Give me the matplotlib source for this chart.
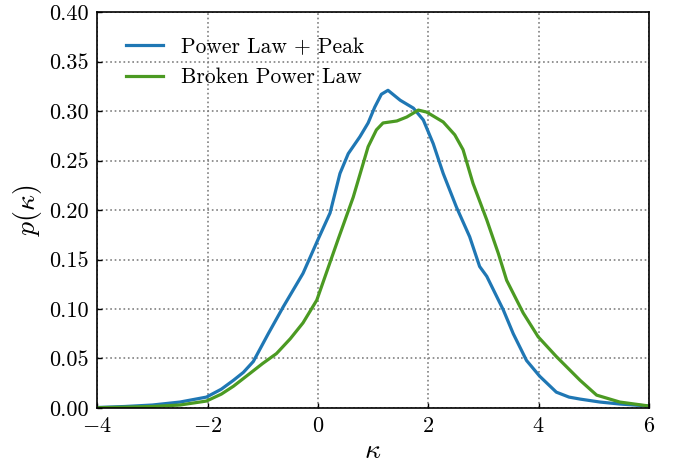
import numpy as np
import matplotlib
matplotlib.use("Agg")
import matplotlib.pyplot as plt

# values
kappa_plp = [-4.0, -3.5, -3.0, -2.5, -2.02, -1.75, -1.53, -1.35, -1.17, -0.9, -0.63, -0.27,
             0.0, 0.22, 0.4, 0.55, 0.76, 0.91, 1.03, 1.15, 1.27, 1.49, 1.73, 1.91, 2.09,
             2.27, 2.51, 2.75, 2.93, 3.06, 3.36, 3.54, 3.78, 4.02, 4.32, 4.55, 4.75, 5.11,
             5.47, 6.0]
p_plp = [0.0005, 0.0015, 0.003, 0.006, 0.011, 0.019, 0.028, 0.036, 0.047, 0.075, 0.102, 0.136,
         0.17, 0.197, 0.237, 0.257, 0.274, 0.288, 0.304, 0.317, 0.321, 0.311, 0.303, 0.291,
         0.267, 0.237, 0.203, 0.173, 0.143, 0.133, 0.099, 0.075, 0.048, 0.032, 0.016, 0.011,
         0.009, 0.006, 0.004, 0.002]

kappa_bpl = [-4.0, -3.5, -3.0, -2.5, -2.02, -1.75, -1.53, -1.23, -1.0, -0.75, -0.5, -0.27,
             -0.02, 0.37, 0.64, 0.91, 1.06, 1.18, 1.43, 1.61, 1.82, 1.97, 2.27, 2.48, 2.63,
             2.81, 3.06, 3.27, 3.42, 3.72, 3.99, 4.32, 4.75, 5.05, 5.47, 6.0]
p_bpl = [0.0003, 0.0008, 0.0015, 0.003, 0.007, 0.014, 0.022, 0.035, 0.045, 0.055, 0.07, 0.086,
         0.109, 0.171, 0.213, 0.264, 0.281, 0.288, 0.29, 0.294, 0.301, 0.299, 0.289, 0.276,
         0.261, 0.227, 0.19, 0.156, 0.129, 0.096, 0.072, 0.052, 0.028, 0.013, 0.006, 0.002]

plt.rcParams['font.family'] = 'cmr10'
plt.rcParams['mathtext.fontset'] = 'cm'
plt.rcParams['axes.formatter.use_mathtext'] = True

fig = plt.figure(figsize=(6.89, 4.66), dpi=100)
ax = fig.add_axes([0.141, 0.1245, 0.801, 0.8495])

ax.plot(kappa_plp, p_plp, color='#1f77b4', lw=2.3, label='Power Law + Peak')
ax.plot(kappa_bpl, p_bpl, color='#4b9a22', lw=2.3, label='Broken Power Law')

ax.set_xlim(-4, 6)
ax.set_ylim(0, 0.4)
ax.set_xticks([-4, -2, 0, 2, 4, 6])
ax.set_yticks(np.arange(0, 0.41, 0.05))
ax.yaxis.set_major_formatter(matplotlib.ticker.FormatStrFormatter('%.2f'))
ax.tick_params(direction='in', labelsize=16, width=1, length=3.5, pad=6)
ax.grid(True, ls=':', color='grey', lw=1.2)
for s in ax.spines.values():
    s.set_linewidth(1.2)

ax.set_xlabel(r'$\kappa$', fontsize=20, labelpad=1)
ax.set_ylabel(r'$p(\kappa)$', fontsize=20)

ax.legend(loc='upper left', bbox_to_anchor=(0.018, 0.985), frameon=False,
          fontsize=15.5, handlelength=1.72)

fig.savefig('out.png', dpi=100)
